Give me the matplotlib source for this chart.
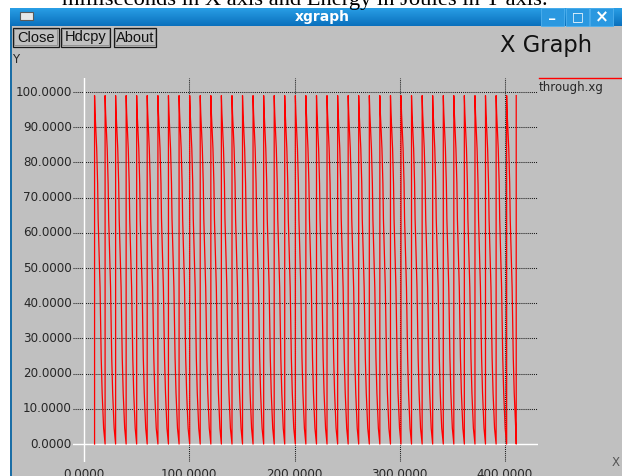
import matplotlib
matplotlib.use("Agg")
import matplotlib.pyplot as plt
import numpy as np
from matplotlib.patches import Rectangle

# x (ms) where each spike rises from 0
spike_x = [10.0, 20.0, 30.0, 40.0, 50.0, 60.0, 70.2, 80.2, 90.3, 100.4,
           110.4, 120.5, 130.5, 140.6, 150.6, 160.6, 170.7, 180.7, 190.7, 200.8,
           210.8, 220.9, 230.9, 241.0, 251.0, 261.0, 271.1, 281.1, 291.2, 301.2,
           311.2, 321.3, 331.3, 341.4, 351.4, 361.4, 371.5, 381.5, 391.6, 401.6,
           410.7]
# energy staircase inside one cycle and x offset of each step from the spike
step_y = [99.0, 94.0, 84.0, 74.0, 64.0, 54.5, 44.5, 34.5, 24.5, 14.5, 4.5]
step_dx = [0.0, 0.5, 2.0, 2.9, 3.4, 4.3, 5.2, 5.8, 6.3, 7.2, 8.6]

y_ticks = [0, 10, 20, 30, 40, 50, 60, 70, 80, 90, 100]
x_ticks = [0, 100, 200, 300, 400]

series_x, series_y = [], []
for i, s in enumerate(spike_x):
    series_x.append(s)
    series_y.append(0.0)
    if i == len(spike_x) - 1:
        series_x.append(s)
        series_y.append(step_y[0])
        break
    for dx, y in zip(step_dx, step_y):
        series_x.append(s + dx)
        series_y.append(y)

W, H = 622, 476
GRAY = "#c0c0c0"
TXT = "#262626"

fig = plt.figure(figsize=(W / 100, H / 100), dpi=100)
fig.patch.set_facecolor("white")

# pixel-space axes for the window chrome
bg = fig.add_axes([0, 0, 1, 1])
bg.set_xlim(0, W)
bg.set_ylim(H, 0)
bg.axis("off")

# caption text cut off at the top of the screenshot
bg.text(62, 5, "milliseconds in X axis and Energy in Joules in Y axis.",
        family="Liberation Serif", fontsize=16.2, color="black",
        va="baseline", ha="left")

# window body and border
bg.add_patch(Rectangle((12, 26), W - 12, H - 26, facecolor=GRAY, edgecolor="none"))
bg.add_patch(Rectangle((10, 8), 2.2, H - 8, facecolor="#1b6ea6", edgecolor="none"))

# title bar gradient
grad = np.linspace(0, 1, 32).reshape(-1, 1)
top = np.array([0.16, 0.62, 0.90])
bot = np.array([0.04, 0.44, 0.74])
img = top + (bot - top) * grad[..., None]
img = np.repeat(img, 2, axis=1)
bg.imshow(img, extent=[10, W, 26, 8], aspect="auto", zorder=1)
bg.text(322, 17, "xgraph", color="white", fontsize=10, fontweight="bold",
        ha="center", va="center", zorder=3)
# window icon
bg.add_patch(Rectangle((20, 12), 13, 8, facecolor="#e8e8e8", edgecolor="#5a5a5a",
                       lw=0.8, zorder=3))
# window buttons
for bx, glyph in [(541, "_"), (566, "□"), (590, "×")]:
    bg.add_patch(Rectangle((bx, 8), 23, 18, facecolor="#2a98e0", edgecolor="#4fb0ee",
                           lw=0.6, zorder=2))
    bg.text(bx + 11.5, 17 if glyph != "_" else 14, glyph, color="white",
            fontsize=9 if glyph != "×" else 12, fontweight="bold",
            ha="center", va="center", zorder=3)

# xgraph buttons
for x0, x1, label in [(12.5, 58.5, "Close"), (60.5, 110, "Hdcpy"), (113.5, 156, "About")]:
    bg.add_patch(Rectangle((x0, 27.5), x1 - x0, 19, facecolor=GRAY, edgecolor="#1a1a1a",
                           lw=0.9, zorder=2))
    bg.add_patch(Rectangle((x0 + 1.5, 29), x1 - x0 - 3, 16, facecolor="none",
                           edgecolor="#8a8a8a", lw=0.6, zorder=2))
    bg.text((x0 + x1) / 2, 37.5, label, family="Liberation Sans", fontsize=10.5,
            color="#111111", ha="center", va="center", zorder=3)

bg.text(500, 52, "X Graph", family="DejaVu Sans", fontsize=16.3, color="#111111",
        ha="left", va="baseline")
bg.text(12, 63, "Y", family="DejaVu Sans", fontsize=8.5, color=TXT, ha="left",
        va="baseline")
bg.text(612, 466, "X", family="DejaVu Sans", fontsize=8.5, color="#555555",
        ha="left", va="baseline")

# legend
bg.plot([539, W], [78, 78], color="red", lw=1.0)
bg.text(539, 81, "through.xg", family="DejaVu Sans", fontsize=8.5, color=TXT,
        ha="left", va="top")

# plot area
x_lo, x_hi = -10.5, 431.4
y_lo, y_hi = -5.1, 104.0
ax = fig.add_axes([73 / W, (H - 462) / H, (538 - 73) / W, (462 - 78) / H])
ax.set_xlim(x_lo, x_hi)
ax.set_ylim(y_lo, y_hi)
ax.axis("off")
ax.patch.set_alpha(0)

for y in y_ticks[1:]:
    ax.plot([x_lo, x_hi], [y, y], color="#1a1a1a", lw=0.75, ls=(0, (1, 1)))
for x in x_ticks[1:]:
    ax.plot([x, x], [y_lo, y_hi], color="#1a1a1a", lw=0.75, ls=(0, (1, 1)))
ax.plot([x_lo, x_hi], [0, 0], color="white", lw=1.0)
ax.plot([0, 0], [y_lo, y_hi], color="white", lw=1.0)

ax.plot(series_x, series_y, color="red", lw=0.9)

for y in y_ticks:
    ax.text(-11.5, y, f"{y:.4f}", family="DejaVu Sans", fontsize=8.6, color=TXT,
            ha="right", va="center", clip_on=False)
for x in x_ticks:
    ax.text(x, -6.9, f"{x:.4f}", family="DejaVu Sans", fontsize=8.6, color=TXT,
            ha="center", va="top", clip_on=False)

fig.savefig("out.png", dpi=100, facecolor=fig.get_facecolor())
